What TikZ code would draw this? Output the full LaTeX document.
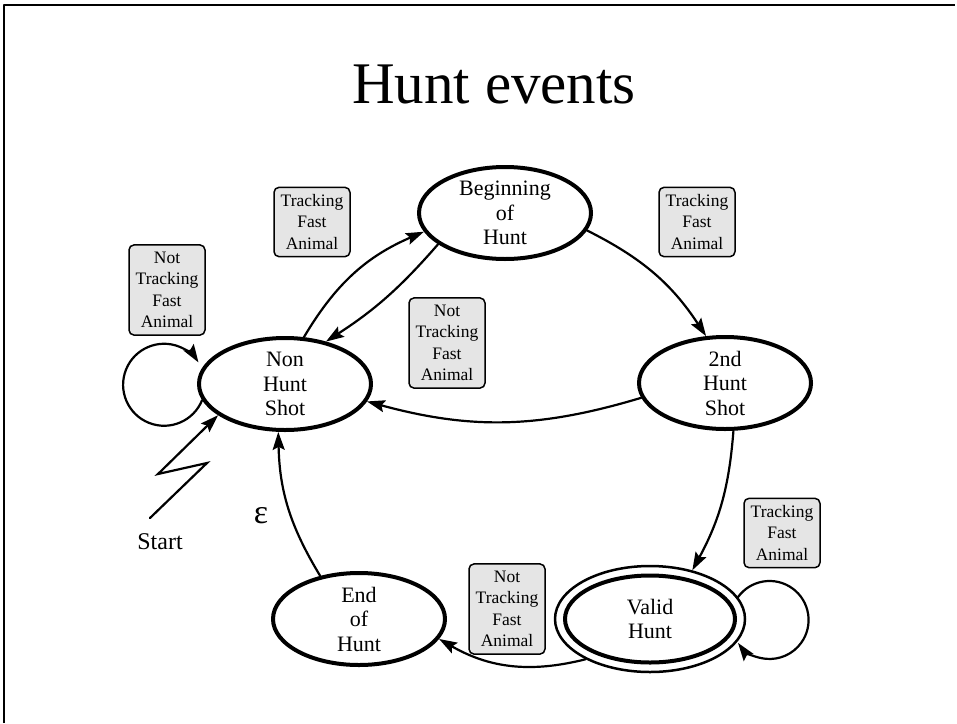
\documentclass[tikz,border=0pt]{standalone}
\usepackage{fontspec}
\setmainfont{Liberation Serif}
\usetikzlibrary{shapes.geometric,arrows.meta}

\begin{document}
\begin{tikzpicture}[x=1pt, y=-1pt, line join=round, line cap=round,
  state/.style={ellipse, draw, line width=4pt, minimum width=172pt, minimum height=92pt, inner sep=0pt, align=center, font=\fontsize{22}{24.5}\selectfont},
  cond/.style={draw, line width=1.5pt, fill=gray!20, rounded corners=5pt, minimum width=76pt, inner xsep=0pt, inner ysep=7pt, align=center, font=\fontsize{17.5}{21.5}\selectfont},
  edge/.style={line width=2.2pt, -{Stealth[length=18pt, width=12pt, inset=3pt]}}]
\useasboundingbox (0,0) rectangle (957,723);
\draw[line width=2.5pt, line cap=butt] (4,723) -- (4,5) -- (955,5);
\node[font=\fontsize{59}{60}\selectfont, anchor=base] (title) at (494,103) {Hunt events};
\node[state] (nh) at (285,384) {Non\\Hunt\\Shot};
\node[state] (bh) at (505,213) {Beginning\\of\\Hunt};
\node[state] (sh) at (725,383) {2nd\\Hunt\\Shot};
\node[state, line width=2.5pt, minimum width=190pt, minimum height=106pt] (vh) at (650,619) {Valid\\Hunt};
\draw[line width=4pt] (vh.center) ellipse [x radius=85pt, y radius=43.5pt];
\node[state] (eh) at (359,619) {End\\of\\Hunt};
\node[cond] (c1) at (167,290) {Not\\Tracking\\Fast\\Animal};
\node[cond] (c2) at (312,222) {Tracking\\Fast\\Animal};
\node[cond] (c3) at (447,343) {Not\\Tracking\\Fast\\Animal};
\node[cond] (c4) at (697,222) {Tracking\\Fast\\Animal};
\node[cond] (c5) at (782,533) {Tracking\\Fast\\Animal};
\node[cond] (c6) at (507,609) {Not\\Tracking\\Fast\\Animal};
\draw[edge] (nh.68) to[bend left=18] (bh.193);
\draw[edge] (bh.205) to[bend left=8] (nh.46);
\draw[edge] (bh.-12) to[bend left=15] (sh.112);
\draw[edge] (sh.190) to[bend left=16] (nh.-12);
\draw[edge] (sh.-80) to[bend left=12] (vh.49);
\draw[edge] (vh.212) to[bend left=22] (eh.-14);
\draw[edge] (eh.132) to[bend left=15] (nh.-98);
\draw[edge] (nh.191) arc[start angle=-22, end angle=-327, radius=41pt];
\draw[edge] (vh.14) arc[start angle=144, end angle=-144, radius=39pt];
\coordinate (st) at (150,518);
\coordinate (z1) at (207,463);
\coordinate (z2) at (158,474);
\draw[edge, line join=miter] (st) -- (z1) -- (z2) -- (nh.205);
\node[font=\fontsize{24}{24}\selectfont] (start) at (160,542) {Start};
\node[font=\fontsize{34}{34}\selectfont] (eps) at (261,516) {ε};
\end{tikzpicture}
\end{document}
